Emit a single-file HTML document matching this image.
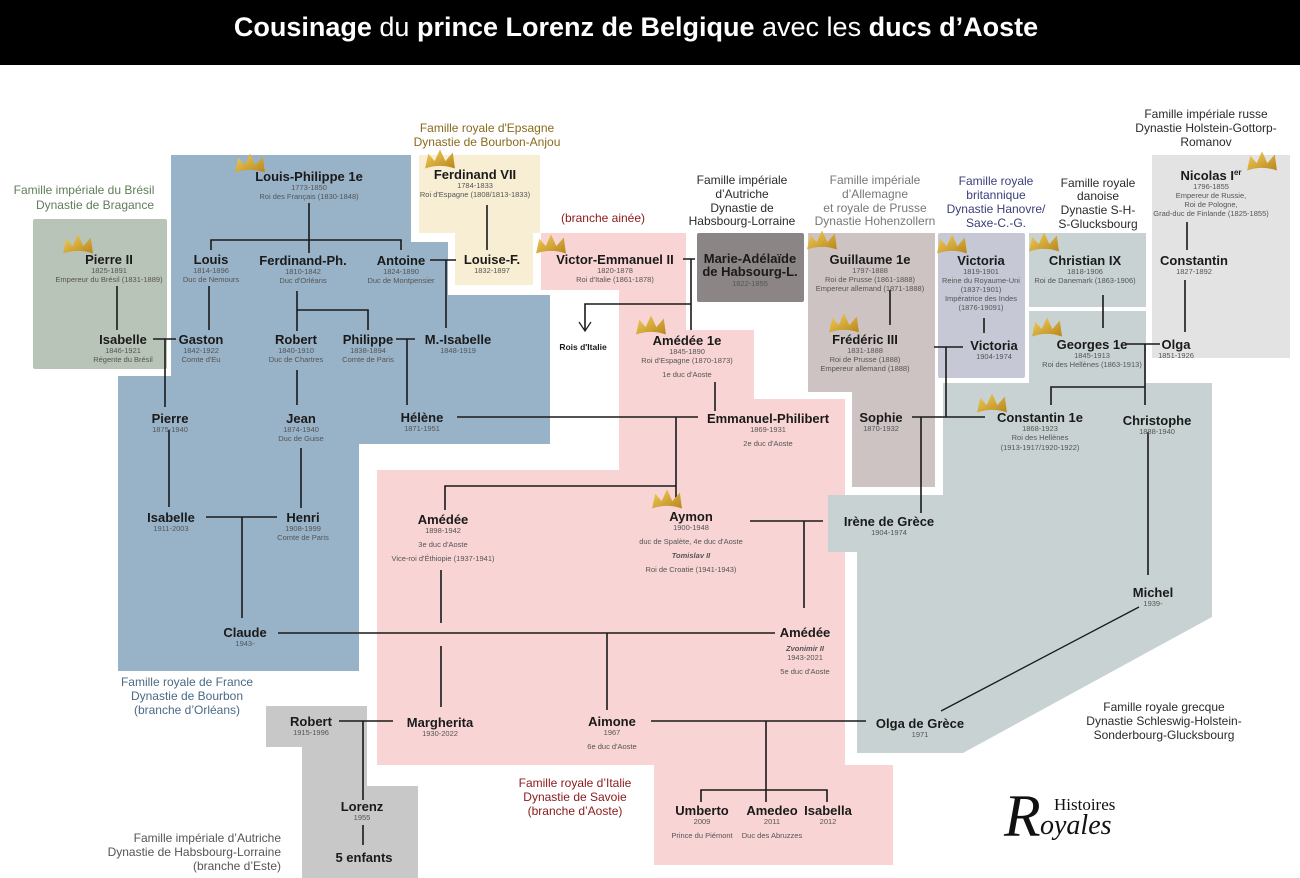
<!DOCTYPE html>
<html><head><meta charset="utf-8"><style>
html,body{margin:0;padding:0;background:#fff;}
svg{display:block;}
text{font-family:"Liberation Sans",sans-serif;}
.n{font-size:13px;font-weight:bold;fill:#1a1a1a;text-anchor:middle;}
.d{font-size:7.5px;fill:#555;text-anchor:middle;}
.l{font-size:12px;text-anchor:middle;}
.ln{stroke:#1a1a1a;stroke-width:1.6;fill:none;}
</style></head><body>
<svg width="1300" height="878" viewBox="0 0 1300 878" xmlns="http://www.w3.org/2000/svg">
<defs>
<linearGradient id="g" x1="0" y1="0" x2="1" y2="1"><stop offset="0" stop-color="#f1cf5a"/><stop offset="1" stop-color="#b8861d"/></linearGradient>
<symbol id="cr" viewBox="0 0 30 20"><path d="M1,18 L4,4 L10,11 L15,0 L20,11 L27,3 L29,18 Q15,13 1,18Z" fill="url(#g)"/></symbol>
</defs>
<rect x="0" y="0" width="1300" height="65" fill="#000"/>
<text x="636" y="36" font-size="27" fill="#fff" text-anchor="middle"><tspan font-weight="bold">Cousinage</tspan> du <tspan font-weight="bold">prince Lorenz de Belgique</tspan> avec les <tspan font-weight="bold">ducs d’Aoste</tspan></text>

<!-- backgrounds -->
<rect x="33" y="219" width="134" height="150" rx="2" fill="#b9c4b8"/>
<path d="M171,155 H411 V242 H448 V295 H550 V444 H359 V671 H118 V376 H171 Z" fill="#98b2c7"/>
<path d="M419,155 H540 V233 H533 V285 H455 V233 H419 Z" fill="#f8eed4"/>
<path d="M541,233 H686 V330 H754 V399 H845 V765 H893 V865 H654 V765 H377 V470 H619 V290 H541 Z" fill="#f8d4d4"/>
<rect x="697" y="233" width="107" height="69" rx="2" fill="#8b8585"/>
<path d="M808,233 H935 V487 H852 V392 H808 Z" fill="#cdc3c3"/>
<rect x="938" y="233" width="87" height="145" rx="2" fill="#c6c8d6"/>
<rect x="1029" y="233" width="117" height="74" fill="#c8d2d2"/>
<rect x="1029" y="311" width="117" height="72" fill="#c8d2d2"/>
<path d="M943,383 H1212 V617 L963,753 H857 V552 H828 V495 H943 Z" fill="#c8d2d2"/>
<rect x="1152" y="155" width="138" height="203" fill="#e3e3e3"/>
<path d="M266,706 H367 V786 H418 V878 H302 V747 H266 Z" fill="#c8c8c8"/>

<!-- group labels -->
<g fill="#5e7f58"><text x="84" y="194" class="l">Famille impériale du Brésil</text><text x="95" y="209" class="l">Dynastie de Bragance</text></g>
<g fill="#8a6a1c"><text x="487" y="132" class="l">Famille royale d'Epsagne</text><text x="487" y="146" class="l">Dynastie de Bourbon-Anjou</text></g>
<text x="603" y="222" class="l" fill="#8b1a1a">(branche ainée)</text>
<g fill="#2a2a2a"><text x="742" y="184" class="l">Famille impériale</text><text x="742" y="198" class="l">d’Autriche</text><text x="742" y="212" class="l">Dynastie de</text><text x="742" y="225" class="l">Habsbourg-Lorraine</text></g>
<g fill="#777"><text x="875" y="184" class="l">Famille impériale</text><text x="875" y="198" class="l">d’Allemagne</text><text x="875" y="212" class="l">et royale de Prusse</text><text x="875" y="225" class="l">Dynastie Hohenzollern</text></g>
<g fill="#3a3f7a"><text x="996" y="185" class="l">Famille royale</text><text x="996" y="199" class="l">britannique</text><text x="996" y="213" class="l">Dynastie Hanovre/</text><text x="996" y="227" class="l">Saxe-C.-G.</text></g>
<g fill="#2a2a2a"><text x="1098" y="187" class="l">Famille royale</text><text x="1098" y="200" class="l">danoise</text><text x="1098" y="214" class="l">Dynastie S-H-</text><text x="1098" y="228" class="l">S-Glucksbourg</text></g>
<g fill="#2a2a2a"><text x="1206" y="118" class="l">Famille impériale russe</text><text x="1206" y="132" class="l">Dynastie Holstein-Gottorp-</text><text x="1206" y="146" class="l">Romanov</text></g>
<g fill="#2a2a2a"><text x="1164" y="711" class="l">Famille royale grecque</text><text x="1164" y="725" class="l">Dynastie Schleswig-Holstein-</text><text x="1164" y="739" class="l">Sonderbourg-Glucksbourg</text></g>
<g fill="#4a6a85"><text x="187" y="686" class="l">Famille royale de France</text><text x="187" y="700" class="l">Dynastie de Bourbon</text><text x="187" y="714" class="l">(branche d’Orléans)</text></g>
<g fill="#555" text-anchor="end"><text x="281" y="842" font-size="12">Famille impériale d’Autriche</text><text x="281" y="856" font-size="12">Dynastie de Habsbourg-Lorraine</text><text x="281" y="870" font-size="12">(branche d’Este)</text></g>
<g fill="#8b1a1a"><text x="575" y="787" class="l">Famille royale d’Italie</text><text x="575" y="801" class="l">Dynastie de Savoie</text><text x="575" y="815" class="l">(branche d’Aoste)</text></g>

<!-- lines -->
<g class="ln">
<path d="M309,203 V253 M211,250 V240 H401 V250"/>
<path d="M430,260 H456 M446,260 V328"/>
<path d="M487,205 V250"/>
<path d="M117,286 V330 M209,286 V330"/>
<path d="M153,339 H176 M165,339 V407"/>
<path d="M297,291 V331 M297,310 H368 V330"/>
<path d="M396,339 H415 M407,339 V405"/>
<path d="M297,370 V405"/>
<path d="M457,417 H698"/>
<path d="M715,382 V411"/>
<path d="M683,259 H695 M691,259 V330 M691,304 H585 V330"/>
<path d="M579,322 L585,331 L591,322" stroke-width="1.2"/>
<path d="M676,417 V500 M676,486 H445 V510"/>
<path d="M750,521 H823 M804,521 V608"/>
<path d="M441,570 V623 M441,646 V707"/>
<path d="M278,633 H775 M607,633 V710"/>
<path d="M206,517 H277 M242,517 V618"/>
<path d="M169,430 V507 M301,448 V508"/>
<path d="M339,721 H393 M363,721 V800 M363,825 V845"/>
<path d="M651,721 H866 M766,721 V802 M701,802 V790 H827 V802"/>
<path d="M934,347 H963 M946,347 V417 M912,417 H985 M921,417 V513"/>
<path d="M890,290 V325 M984,318 V333 M1103,295 V328"/>
<path d="M1126,344 H1160 M1145,344 V405 M1051,405 V387 H1145"/>
<path d="M1148,432 V575"/>
<path d="M1139,607 L941,711" stroke-width="1.3"/>
<path d="M1187,222 V250 M1185,280 V332"/>
</g>

<!-- crowns -->
<use href="#cr" x="234" y="152" width="32" height="24"/>
<use href="#cr" x="424" y="148" width="32" height="24"/>
<use href="#cr" x="62" y="233" width="32" height="24"/>
<use href="#cr" x="535" y="233" width="32" height="24"/>
<use href="#cr" x="806" y="229" width="32" height="24"/>
<use href="#cr" x="936" y="233" width="32" height="24"/>
<use href="#cr" x="1028" y="231" width="32" height="24"/>
<use href="#cr" x="1246" y="150" width="32" height="24"/>
<use href="#cr" x="635" y="314" width="32" height="24"/>
<use href="#cr" x="828" y="312" width="32" height="24"/>
<use href="#cr" x="1031" y="316" width="32" height="24"/>
<use href="#cr" x="976" y="392" width="32" height="24"/>
<use href="#cr" x="651" y="488" width="32" height="24"/>

<!-- nodes -->
<text x="309" y="181" class="n">Louis-Philippe 1e</text><text x="309" y="190" class="d">1773-1850</text><text x="309" y="199" class="d">Roi des Français (1830-1848)</text>
<text x="475" y="179" class="n">Ferdinand VII</text><text x="475" y="188" class="d">1784-1833</text><text x="475" y="197" class="d">Roi d'Espagne (1808/1813-1833)</text>
<text x="109" y="264" class="n">Pierre II</text><text x="109" y="273" class="d">1825-1891</text><text x="109" y="282" class="d">Empereur du Brésil (1831-1889)</text>
<text x="211" y="264" class="n">Louis</text><text x="211" y="273" class="d">1814-1896</text><text x="211" y="282" class="d">Duc de Nemours</text>
<text x="303" y="265" class="n">Ferdinand-Ph.</text><text x="303" y="274" class="d">1810-1842</text><text x="303" y="283" class="d">Duc d'Orléans</text>
<text x="401" y="265" class="n">Antoine</text><text x="401" y="274" class="d">1824-1890</text><text x="401" y="283" class="d">Duc de Montpensier</text>
<text x="492" y="264" class="n">Louise-F.</text><text x="492" y="273" class="d">1832-1897</text>
<text x="615" y="264" class="n">Victor-Emmanuel II</text><text x="615" y="273" class="d">1820-1878</text><text x="615" y="282" class="d">Roi d'Italie (1861-1878)</text>
<text x="750" y="263" class="n">Marie-Adélaïde</text><text x="750" y="276" class="n">de Habsourg-L.</text><text x="750" y="286" class="d">1822-1855</text>
<text x="870" y="264" class="n">Guillaume 1e</text><text x="870" y="273" class="d">1797-1888</text><text x="870" y="282" class="d">Roi de Prusse (1861-1888)</text><text x="870" y="291" class="d">Empereur allemand (1871-1888)</text>
<text x="981" y="265" class="n">Victoria</text><text x="981" y="274" class="d">1819-1901</text><text x="981" y="283" class="d">Reine du Royaume-Uni</text><text x="981" y="292" class="d">(1837-1901)</text><text x="981" y="301" class="d">Impératrice des Indes</text><text x="981" y="310" class="d">(1876-19091)</text>
<text x="1085" y="265" class="n">Christian IX</text><text x="1085" y="274" class="d">1818-1906</text><text x="1085" y="283" class="d">Roi de Danemark (1863-1906)</text>
<text x="1211" y="180" class="n">Nicolas I<tspan font-size="8" dy="-5">er</tspan></text><text x="1211" y="189" class="d">1796-1855</text><text x="1211" y="198" class="d">Empereur de Russie,</text><text x="1211" y="207" class="d">Roi de Pologne,</text><text x="1211" y="216" class="d">Grad-duc de Finlande (1825-1855)</text>
<text x="1194" y="265" class="n">Constantin</text><text x="1194" y="274" class="d">1827-1892</text>
<text x="123" y="344" class="n">Isabelle</text><text x="123" y="353" class="d">1846-1921</text><text x="123" y="362" class="d">Régente du Brésil</text>
<text x="201" y="344" class="n">Gaston</text><text x="201" y="353" class="d">1842-1922</text><text x="201" y="362" class="d">Comte d'Eu</text>
<text x="296" y="344" class="n">Robert</text><text x="296" y="353" class="d">1840-1910</text><text x="296" y="362" class="d">Duc de Chartres</text>
<text x="368" y="344" class="n">Philippe</text><text x="368" y="353" class="d">1838-1894</text><text x="368" y="362" class="d">Comte de Paris</text>
<text x="458" y="344" class="n">M.-Isabelle</text><text x="458" y="353" class="d">1848-1919</text>
<text x="583" y="350" font-size="8.5" font-weight="bold" text-anchor="middle" fill="#1a1a1a">Rois d'Italie</text>
<text x="687" y="345" class="n">Amédée 1e</text><text x="687" y="354" class="d">1845-1890</text><text x="687" y="363" class="d">Roi d'Espagne (1870-1873)</text><text x="687" y="377" class="d">1e duc d'Aoste</text>
<text x="865" y="344" class="n">Frédéric III</text><text x="865" y="353" class="d">1831-1888</text><text x="865" y="362" class="d">Roi de Prusse (1888)</text><text x="865" y="371" class="d">Empereur allemand (1888)</text>
<text x="994" y="350" class="n">Victoria</text><text x="994" y="359" class="d">1904-1974</text>
<text x="1092" y="349" class="n">Georges 1e</text><text x="1092" y="358" class="d">1845-1913</text><text x="1092" y="367" class="d">Roi des Hellènes (1863-1913)</text>
<text x="1176" y="349" class="n">Olga</text><text x="1176" y="358" class="d">1851-1926</text>
<text x="170" y="423" class="n">Pierre</text><text x="170" y="432" class="d">1875-1940</text>
<text x="301" y="423" class="n">Jean</text><text x="301" y="432" class="d">1874-1940</text><text x="301" y="441" class="d">Duc de Guise</text>
<text x="422" y="422" class="n">Hélène</text><text x="422" y="431" class="d">1871-1951</text>
<text x="768" y="423" class="n">Emmanuel-Philibert</text><text x="768" y="432" class="d">1869-1931</text><text x="768" y="446" class="d">2e duc d'Aoste</text>
<text x="881" y="422" class="n">Sophie</text><text x="881" y="431" class="d">1870-1932</text>
<text x="1040" y="422" class="n">Constantin 1e</text><text x="1040" y="431" class="d">1868-1923</text><text x="1040" y="440" class="d">Roi des Hellènes</text><text x="1040" y="450" class="d">(1913-1917/1920-1922)</text>
<text x="1157" y="425" class="n">Christophe</text><text x="1157" y="434" class="d">1888-1940</text>
<text x="171" y="522" class="n">Isabelle</text><text x="171" y="531" class="d">1911-2003</text>
<text x="303" y="522" class="n">Henri</text><text x="303" y="531" class="d">1908-1999</text><text x="303" y="540" class="d">Comte de Paris</text>
<text x="443" y="524" class="n">Amédée</text><text x="443" y="533" class="d">1898-1942</text><text x="443" y="547" class="d">3e duc d'Aoste</text><text x="443" y="561" class="d">Vice-roi d'Éthiopie (1937-1941)</text>
<text x="691" y="521" class="n">Aymon</text><text x="691" y="530" class="d">1900-1948</text><text x="691" y="544" class="d">duc de Spalète, 4e duc d'Aoste</text><text x="691" y="558" class="d" font-weight="bold" font-style="italic" fill="#222">Tomislav II</text><text x="691" y="572" class="d">Roi de Croatie (1941-1943)</text>
<text x="889" y="526" class="n">Irène de Grèce</text><text x="889" y="535" class="d">1904-1974</text>
<text x="1153" y="597" class="n">Michel</text><text x="1153" y="606" class="d">1939-</text>
<text x="245" y="637" class="n">Claude</text><text x="245" y="646" class="d">1943-</text>
<text x="805" y="637" class="n">Amédée</text><text x="805" y="651" class="d" font-weight="bold" font-style="italic" fill="#222">Zvonimir II</text><text x="805" y="660" class="d">1943-2021</text><text x="805" y="674" class="d">5e duc d'Aoste</text>
<text x="311" y="726" class="n">Robert</text><text x="311" y="735" class="d">1915-1996</text>
<text x="440" y="727" class="n">Margherita</text><text x="440" y="736" class="d">1930-2022</text>
<text x="612" y="726" class="n">Aimone</text><text x="612" y="735" class="d">1967</text><text x="612" y="749" class="d">6e duc d'Aoste</text>
<text x="920" y="728" class="n">Olga de Grèce</text><text x="920" y="737" class="d">1971</text>
<text x="362" y="811" class="n">Lorenz</text><text x="362" y="820" class="d">1955</text>
<text x="364" y="862" class="n">5 enfants</text>
<text x="702" y="815" class="n">Umberto</text><text x="702" y="824" class="d">2009</text><text x="702" y="838" class="d">Prince du Piémont</text>
<text x="772" y="815" class="n">Amedeo</text><text x="772" y="824" class="d">2011</text><text x="772" y="838" class="d">Duc des Abruzzes</text>
<text x="828" y="815" class="n">Isabella</text><text x="828" y="824" class="d">2012</text>

<!-- logo -->
<text x="1004" y="836" style="font-family:'Liberation Serif',serif" font-style="italic" font-size="60" fill="#111">R</text>
<text x="1054" y="810" style="font-family:'Liberation Serif',serif" font-size="17" fill="#111">Histoires</text>
<text x="1040" y="834" style="font-family:'Liberation Serif',serif" font-style="italic" font-size="28" fill="#111">oyales</text>
</svg>
</body></html>
